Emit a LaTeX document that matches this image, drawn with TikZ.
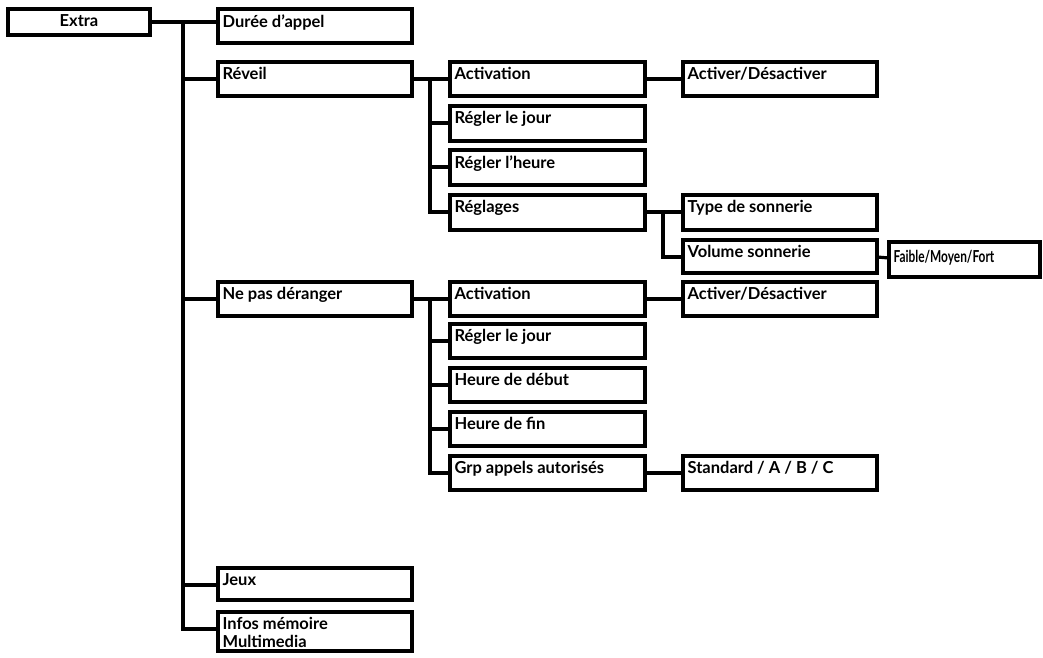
\documentclass[tikz,border=0pt]{standalone}
\usepackage{fontspec}
\setmainfont{Lato}
\begin{document}
\begin{tikzpicture}[x=1pt,y=-1pt,line width=3.2pt]
\useasboundingbox (0,0) rectangle (1043,657);
\newcommand\bx[6]{\draw (#2,#3) rectangle (#4,#5); \node[anchor=north west,inner sep=0pt,font=\bfseries\fontsize{16.5}{18}\selectfont,align=left] (#1) at (#2+3,#3+4) {#6}; \coordinate (#1-w) at (#2,#3+17); \coordinate (#1-e) at (#4,#3+17);}
\draw (8,9) rectangle (150,35);
\node[font=\bfseries\fontsize{16.5}{18}\selectfont] (extra) at (79,21) {Extra};
\coordinate (extra-e) at (150,22);
\bx{duree}{218}{9}{412}{43}{Durée d’appel}
\bx{reveil}{218}{62}{412}{96}{Réveil}
\bx{act1}{450}{62}{645}{96}{Activation}
\bx{ad1}{683}{62}{877}{96}{Activer/Désactiver}
\bx{rj1}{450}{106}{645}{141}{Régler le jour}
\bx{rh}{450}{150}{645}{185}{Régler l’heure}
\bx{regl}{450}{195}{645}{230}{Réglages}
\bx{type}{683}{195}{877}{230}{Type de sonnerie}
\bx{vol}{683}{240}{877}{273}{Volume sonnerie}
\draw (889,242) rectangle (1040,277);
\node[anchor=north west,inner sep=0pt,font=\bfseries\fontsize{16.5}{18}\selectfont] (fmf) at (892,249) {\scalebox{0.72}[1]{Faible/Moyen/Fort}};
\coordinate (fmf-w) at (889,258);
\bx{npd}{218}{282}{412}{316}{Ne pas déranger}
\bx{act2}{450}{282}{645}{316}{Activation}
\bx{ad2}{683}{282}{877}{316}{Activer/Désactiver}
\bx{rj2}{450}{324}{645}{358}{Régler le jour}
\bx{hd}{450}{368}{645}{402}{Heure de début}
\bx{hf}{450}{412}{645}{446}{Heure de fin}
\bx{grp}{450}{456}{645}{490}{Grp appels autorisés}
\bx{std}{683}{456}{877}{490}{Standard / A / B / C}
\bx{jeux}{218}{568}{412}{600}{Jeux}
\bx{infos}{218}{612}{412}{651}{Infos mémoire\\Multimedia}
% connectors
\draw (extra-e) -- (extra-e -| duree-w);
\draw (183,22) |- (infos-w);
\draw (183,79) -- (reveil-w);
\draw (183,299) -- (npd-w);
\draw (183,585) -- (jeux-w);
\draw (reveil-e) -- (act1-w);
\draw (430,79) |- (regl-w);
\draw (430,123) -- (rj1-w);
\draw (430,167) -- (rh-w);
\draw (act1-e) -- (ad1-w);
\draw (regl-e) -- (type-w);
\draw (663,212) |- (vol-w);
\draw (vol-e) -- (fmf-w);
\draw (npd-e) -- (act2-w);
\draw (430,299) |- (grp-w);
\draw (430,341) -- (rj2-w);
\draw (430,385) -- (hd-w);
\draw (430,429) -- (hf-w);
\draw (act2-e) -- (ad2-w);
\draw (grp-e) -- (std-w);
\end{tikzpicture}
\end{document}
